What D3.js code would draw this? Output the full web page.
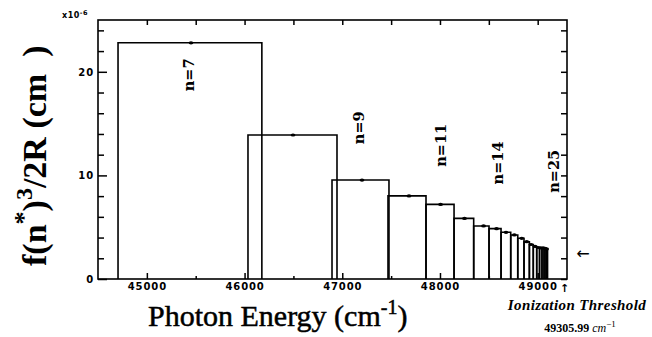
<!DOCTYPE html>
<html><head><meta charset="utf-8">
<script src="https://cdn.jsdelivr.net/npm/d3@7"></script>
<style>body{margin:0;background:#fff}svg{display:block}</style>
</head><body><svg id="c" width="652" height="337"></svg>
<script>
// Rydberg levels (principal quantum number n)
const nLevels    = [7, 8, 9, 10, 11, 12, 13, 14, 15, 16, 17, 18, 19, 20, 21, 22, 23, 24, 25];
// line positions (cm^-1)
const lineEnergy = [45452, 46496, 47202, 47683, 48006, 48251, 48446, 48579, 48676, 48761, 48837, 48888, 48932, 48973, 49003, 49029, 49055, 49075, 49091];
// box edges (cm^-1)
const boxLeft    = [44705, 46035, 46895, 47468, 47857, 48144, 48345, 48502, 48625, 48724, 48796, 48860, 48915, 48955, 48990, 49019, 49044, 49065, 49085];
const boxRight   = [46177, 46946, 47478, 47857, 48144, 48345, 48502, 48625, 48724, 48796, 48860, 48915, 48955, 48990, 49019, 49044, 49065, 49085, 49101];
// f(n*)^3/2R  (x10^-6 cm)
const density    = [22.8, 13.9, 9.55, 8.02, 7.2, 5.85, 5.12, 4.86, 4.51, 4.25, 3.93, 3.6, 3.33, 3.14, 3.04, 3.0, 3.0, 2.95, 2.9];
// annotated levels
const labelN      = [7, 9, 11, 14, 25];
const labelEnergy = [45430, 47170, 48010, 48590, 49165];
const labelValue  = [19.7, 14.6, 12.9, 11.2, 10.4];
// axes
const xDomain = [44500, 49300];
const yDomain = [0, 25];
const xMajorTicks = [45000, 46000, 47000, 48000, 49000];
const xMinorTicks = [45500, 46500, 47500, 48500];
const yMajorTicks = [0, 10, 20];
const yMinorTicks = [2, 4, 6, 8, 12, 14, 16, 18, 22, 24];
const threshold = 49305.99;

const svg = d3.select("#c");
const L = 98, R = 567, T = 20, B = 279;
const x = d3.scaleLinear().domain(xDomain).range([L, R]);
const y = d3.scaleLinear().domain(yDomain).range([B, T]);

const tickFont = "'DejaVu Sans', sans-serif";

// boxes
const g = svg.append("g");
nLevels.forEach((n, i) => {
  g.append("path")
    .attr("d", `M${x(boxLeft[i])},${y(0)}V${y(density[i])}H${x(boxRight[i])}V${y(0)}`)
    .attr("fill", "none").attr("stroke", "#000").attr("stroke-width", 1.6);
});
g.selectAll("ellipse.dot").data(nLevels).enter().append("ellipse")
  .attr("cx", (d, i) => x(lineEnergy[i]))
  .attr("cy", (d, i) => y(density[i]))
  .attr("rx", 2.4).attr("ry", 1.6).attr("fill", "#000");

// axes
function styleAxis(sel) {
  sel.select(".domain").remove();
  sel.selectAll("line").attr("stroke", "#000").attr("stroke-width", 1.5);
  sel.selectAll("text").attr("font-family", tickFont).attr("font-weight", "bold")
     .attr("font-size", 10).attr("letter-spacing", "0.9px").attr("fill", "#000");
}
svg.append("g").attr("transform", `translate(0,${B})`)
  .call(d3.axisBottom(x).tickValues(xMajorTicks).tickSize(-6).tickPadding(4).tickFormat(d3.format("d")))
  .call(styleAxis);
svg.append("g").attr("transform", `translate(0,${B})`)
  .call(d3.axisBottom(x).tickValues(xMinorTicks).tickSize(-3).tickFormat(""))
  .call(styleAxis);
svg.append("g").attr("transform", `translate(0,${T})`)
  .call(d3.axisTop(x).tickValues(xMajorTicks.concat(xMinorTicks)).tickSize(-5).tickFormat(""))
  .call(styleAxis);
svg.append("g").attr("transform", `translate(${L},0)`)
  .call(d3.axisLeft(y).tickValues(yMajorTicks).tickSize(-9).tickPadding(4).tickFormat(d3.format("d")))
  .call(styleAxis);
svg.append("g").attr("transform", `translate(${L},0)`)
  .call(d3.axisLeft(y).tickValues(yMinorTicks).tickSize(-6).tickFormat(""))
  .call(styleAxis);
svg.append("g").attr("transform", `translate(${R},0)`)
  .call(d3.axisRight(y).tickValues(yMajorTicks.concat(yMinorTicks)).tickSize(-6).tickFormat(""))
  .call(styleAxis);

// frame
svg.append("rect").attr("x", L).attr("y", T).attr("width", R - L).attr("height", B - T)
  .attr("fill", "none").attr("stroke", "#000").attr("stroke-width", 1.6);

// x10^-6
const sc = svg.append("text").attr("x", 62).attr("y", 18)
  .attr("font-family", tickFont).attr("font-weight", "bold").attr("font-size", 8).attr("letter-spacing", "0.5px");
sc.append("tspan").text("x10");
sc.append("tspan").attr("dy", -3).attr("font-size", 6.5).text("-6");

// n labels
labelN.forEach((n, i) => {
  svg.append("text")
    .attr("transform", `translate(${x(labelEnergy[i]) + 5},${y(labelValue[i])}) rotate(-90)`)
    .attr("text-anchor", "middle")
    .attr("font-family", "'DejaVu Serif', serif").attr("font-weight", "bold").attr("font-size", 14.5)
    .text("n=" + n);
});

// y title
const yt = svg.append("text")
  .attr("transform", "translate(46,266) rotate(-90)")
  .attr("font-family", "'Liberation Serif', serif").attr("font-weight", "bold").attr("font-size", 34)
  .style("white-space", "pre");
yt.append("tspan").text("f(n");
yt.append("tspan").attr("dy", -14).attr("font-size", 26).text("*");
yt.append("tspan").attr("dy", 14).text(")");
yt.append("tspan").attr("dy", -14).attr("font-size", 24).text("3");
yt.append("tspan").attr("dy", 14).text("/2R (cm  )");

// x title
const xt = svg.append("text").attr("x", 148).attr("y", 326)
  .attr("font-family", "'Liberation Serif', serif").attr("font-size", 30)
  .attr("stroke", "#000").attr("stroke-width", 0.5);
xt.append("tspan").text("Photon Energy (cm");
xt.append("tspan").attr("dy", -12).attr("font-size", 20).text("-1");
xt.append("tspan").attr("dy", 12).text(")");

// threshold annotations
svg.append("text").attr("x", x(threshold) - 3).attr("y", 292).attr("text-anchor", "middle")
  .attr("font-family", tickFont).attr("font-weight", "bold").attr("font-size", 11).text("\u2191");
svg.append("text").attr("x", 577).attr("y", 310).attr("text-anchor", "middle")
  .attr("font-family", "'Liberation Serif', serif").attr("font-weight", "bold").attr("font-style", "italic")
  .attr("font-size", 15).attr("letter-spacing", "0.4px").text("Ionization Threshold");
const th = svg.append("text").attr("x", 580).attr("y", 332).attr("text-anchor", "middle")
  .attr("font-family", "'Liberation Serif', serif").attr("font-weight", "bold").attr("font-size", 12);
th.append("tspan").text(d3.format(".2f")(threshold) + " ");
th.append("tspan").attr("font-style", "italic").attr("font-weight", "normal").text("cm");
th.append("tspan").attr("dy", -5).attr("font-size", 9).attr("font-weight", "normal").text("\u22121");
svg.append("text").attr("x", 583).attr("y", 259).attr("text-anchor", "middle")
  .attr("font-family", tickFont).attr("font-size", 16).text("\u2190");
</script></body></html>
